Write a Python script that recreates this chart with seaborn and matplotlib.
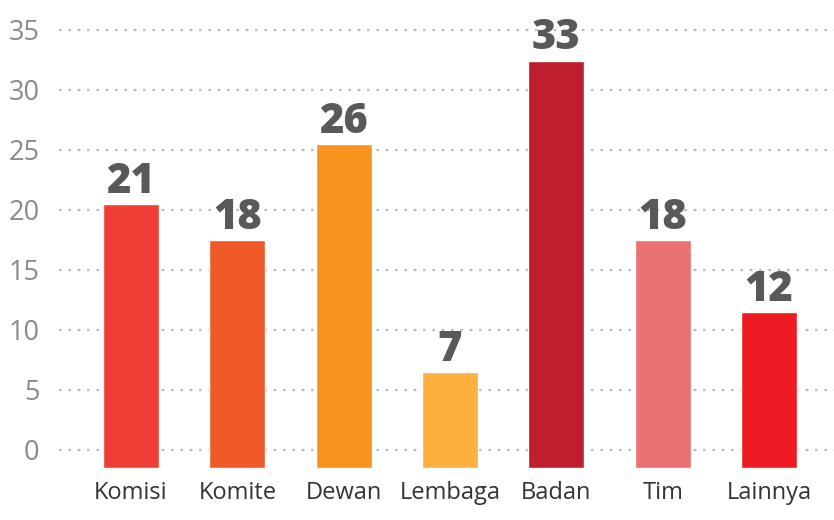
import matplotlib
matplotlib.use("Agg")
import matplotlib.pyplot as plt
import seaborn as sns
import pandas as pd

# data
categories = ['Komisi', 'Komite', 'Dewan', 'Lembaga', 'Badan', 'Tim', 'Lainnya']
counts = [21, 18, 26, 7, 33, 18, 12]
colors = ['#EF3E36', '#F05A28', '#F7941D', '#FBB040', '#BE1E2D', '#EA7171', '#ED1C24']
y_ticks = [0, 5, 10, 15, 20, 25, 30, 35]

# bars sit a bit below the zero line in the original
base = -1.5
df = pd.DataFrame({'cat': categories, 'h': [c - 0.55 - base for c in counts]})

sns.set_style('white')
plt.rcParams['font.family'] = ['Open Sans', 'DejaVu Sans']

fig = plt.figure(figsize=(8.34, 5.2), dpi=100)
ax = fig.add_axes([59 / 834, (520 - 467.5) / 520, (834 - 59) / 834, 467.5 / 520])

sns.barplot(data=df, x='cat', y='h', hue='cat', palette=colors, legend=False,
            width=0.527, saturation=1, bottom=base, ax=ax, zorder=3)

for i, c in enumerate(counts):
    ax.annotate(str(c), (i, c - 0.55), xytext=(0, 1), textcoords='offset points',
                ha='center', va='bottom', fontsize=30, fontweight=800,
                family=['Open Sans', 'DejaVu Sans'], color='#58595B')

ax.set_xlim(-0.677, 6.61)
ax.set_ylim(base, 37.5)
ax.set_yticks(y_ticks)
ax.set_yticklabels([str(t) for t in y_ticks])
ax.yaxis.grid(True, linestyle=(0, (1.2, 3)), color='#BBBBBB', linewidth=1.6, zorder=0)
ax.xaxis.grid(False)
for s in ax.spines.values():
    s.set_visible(False)

ax.set_xlabel('')
ax.set_ylabel('')
ax.tick_params(axis='x', length=0, pad=10, labelsize=17, labelcolor='#333333')
ax.tick_params(axis='y', length=0, pad=14, labelsize=19.5, labelcolor='#8A8A8A')

fig.savefig('out.png', dpi=100)
